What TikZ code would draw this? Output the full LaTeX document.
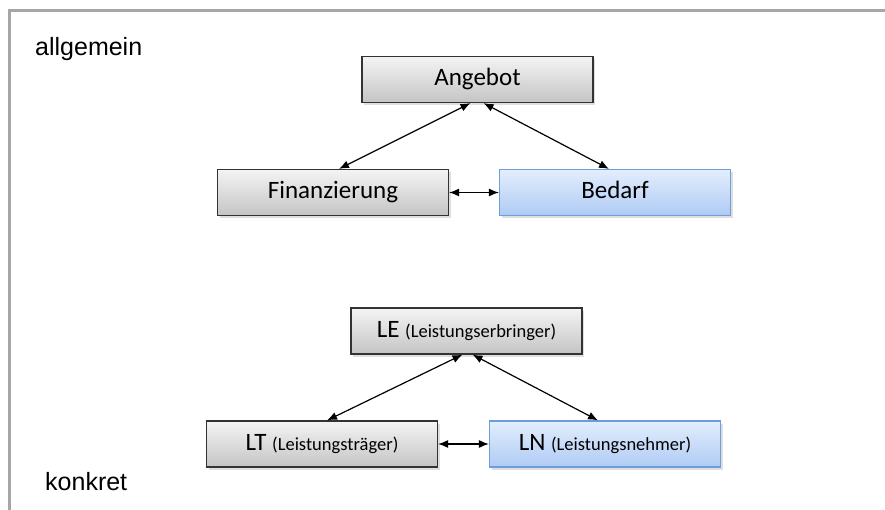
\documentclass[tikz,border=0pt]{standalone}
\usepackage{fontspec}
\setmainfont{Carlito}
\newfontfamily\arialf{Liberation Sans}
\usetikzlibrary{arrows.meta,shadows}
\definecolor{framegray}{HTML}{A6A6A6}
\definecolor{graytop}{HTML}{F4F4F4}
\definecolor{graybot}{HTML}{C4C4C4}
\definecolor{bluetop}{HTML}{E3EEFD}
\definecolor{bluebot}{HTML}{AFCBF4}
\definecolor{blueborder}{HTML}{6F9CDB}
\tikzset{
  graybox/.style={draw=black!80, line width=1.2pt, top color=graytop, bottom color=graybot,
    minimum width=231pt, minimum height=46pt, inner sep=0pt,
    text height=17pt, text depth=5pt,
    font=\fontsize{25}{30}\selectfont,
    drop shadow={shadow xshift=2pt, shadow yshift=-2.5pt, opacity=0.25}},
  bluebox/.style={graybox, draw=blueborder, top color=bluetop, bottom color=bluebot},
  conn/.style={line width=1.2pt, {Latex[length=10pt,width=8pt]}-{Latex[length=10pt,width=8pt]}},
  side/.style={font=\arialf\fontsize{25}{30}\selectfont, anchor=base west, inner sep=0pt}
}
\newcommand{\smalltext}[1]{{\fontsize{18.5}{22}\selectfont #1}}
\begin{document}
\begin{tikzpicture}[x=1pt,y=-1pt]
\useasboundingbox (0,0) rectangle (885,510);
\fill[white] (0,0) rectangle (885,510);
\draw[framegray, line width=3pt] (9,520) -- (9,11) -- (890,11);

\node[side] (allg) at (35,56) {allgemein};
\node[side] (konk) at (45,490) {konkret};

\node[graybox] (ang) at (477.5,79.5) {Angebot};
\node[graybox] (fin) at (333,192.5) {Finanzierung};
\node[bluebox] (bed) at (615,192.5) {Bedarf};

\node[graybox] (le) at (466.5,331) {LE \smalltext{(Leistungserbringer)}};
\node[graybox] (lt) at (322,444) {LT \smalltext{(Leistungsträger)}};
\node[bluebox] (ln) at (605,444) {LN \smalltext{(Leistungsnehmer)}};

\draw[conn] ([xshift=6pt]fin.north) -- ([xshift=-7pt]ang.south);
\draw[conn] ([xshift=-6pt]bed.north) -- ([xshift=6pt]ang.south);
\draw[conn] (fin.east) -- (bed.west);

\draw[conn] ([xshift=5pt]lt.north) -- ([xshift=-4pt]le.south);
\draw[conn] ([xshift=-7pt]ln.north) -- ([xshift=6pt]le.south);
\draw[conn] (lt.east) -- (ln.west);
\end{tikzpicture}
\end{document}
